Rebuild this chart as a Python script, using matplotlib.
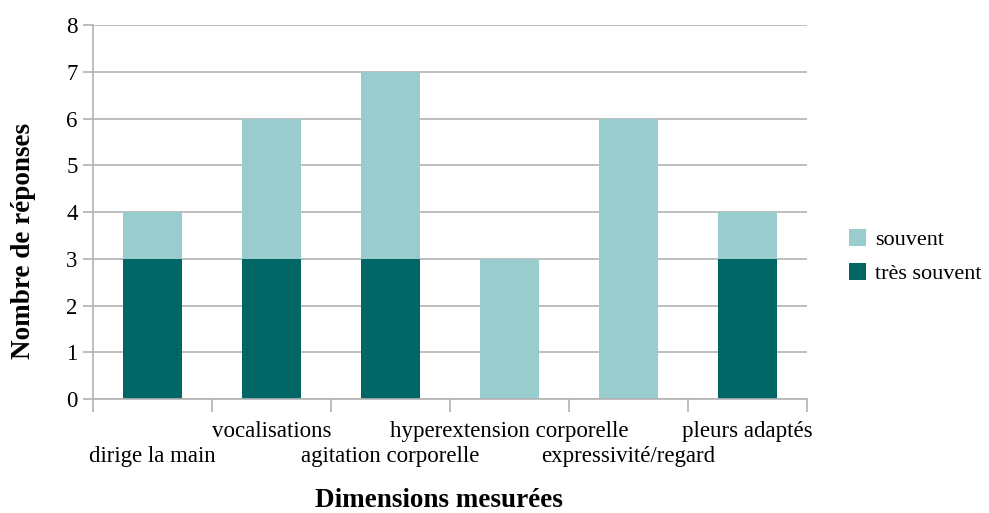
import matplotlib.pyplot as plt
import numpy as np

plt.rcParams['font.family'] = ['Liberation Serif', 'DejaVu Serif']

categories = ["dirige la main", "vocalisations", "agitation corporelle",
              "hyperextension corporelle", "expressivité/regard", "pleurs adaptés"]
tres_souvent = [3, 3, 3, 0, 0, 3]
souvent = [1, 3, 4, 3, 6, 1]

dark = "#006666"
light = "#99cccc"
grid = "#b3b3b3"

fig = plt.figure(figsize=(9.89, 5.13), dpi=100)
ax = fig.add_axes([0.094, 0.222, 0.722, 0.729])

x = np.arange(len(categories))
ax.bar(x, tres_souvent, width=0.5, color=dark, label="très souvent", zorder=2)
ax.bar(x, souvent, width=0.5, bottom=tres_souvent, color=light, label="souvent", zorder=2)

ax.set_xlim(-0.5, len(categories) - 0.5)
ax.set_ylim(0, 8)
ax.set_yticks(range(0, 9))
ax.yaxis.grid(True, color=grid, linewidth=1.2, zorder=0)

for side in ("top", "right"):
    ax.spines[side].set_visible(False)
for side in ("left", "bottom"):
    ax.spines[side].set_color(grid)
    ax.spines[side].set_linewidth(1.2)

# ticks sit on the category boundaries, labels are drawn separately
ax.set_xticks(np.arange(-0.5, len(categories), 1.0))
ax.set_xticklabels([])
ax.tick_params(axis="x", length=9, width=1.2, color=grid)
ax.tick_params(axis="y", length=7, width=1.2, color=grid, labelsize=16.5, pad=4)

trans = ax.get_xaxis_transform()
for i, name in enumerate(categories):
    y = -0.102 if i % 2 else -0.168
    ax.text(i, y, name, transform=trans, ha="center", va="baseline", fontsize=16.5)

fig.text(0.024, 0.53, "Nombre de réponses", rotation=90, ha="center", va="center",
         fontsize=19.5, fontweight="bold")
ax.text(0.485, -0.288, "Dimensions mesurées", transform=ax.transAxes,
        ha="center", va="baseline", fontsize=19.5, fontweight="bold")

handles, labels = ax.get_legend_handles_labels()
fig.legend(handles[::-1], labels[::-1], loc="center left", bbox_to_anchor=(0.858, 0.5),
           frameon=False, fontsize=16, handlelength=0.8, handleheight=0.8,
           handletextpad=0.4, labelspacing=0.6, borderpad=0, borderaxespad=0)

fig.savefig("out.png", dpi=100)
